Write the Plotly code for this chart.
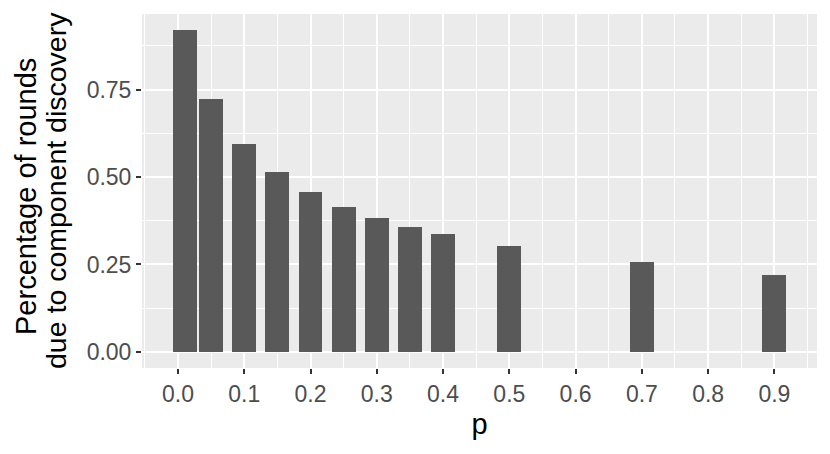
import plotly.graph_objects as go

# discovery share per p value
p_values = [0.01, 0.05, 0.1, 0.15, 0.2, 0.25, 0.3, 0.35, 0.4, 0.5, 0.7, 0.9]
share = [0.920, 0.724, 0.595, 0.513, 0.456, 0.414, 0.382, 0.356, 0.336, 0.302, 0.256, 0.220]
x_ticks = [0.0, 0.1, 0.2, 0.3, 0.4, 0.5, 0.6, 0.7, 0.8, 0.9]
y_ticks = [0.0, 0.25, 0.5, 0.75]

bar_w = 0.036
xlo, xhi = min(p_values) - bar_w / 2, max(p_values) + bar_w / 2
xpad = (xhi - xlo) * 0.05
ypad = max(share) * 0.05

fig = go.Figure(go.Bar(x=p_values, y=share, width=bar_w,
                       marker=dict(color="#595959", line=dict(width=0))))

axis_common = dict(showline=False, zeroline=False, ticks="outside", ticklen=5,
                   tickwidth=2, tickcolor="#333333", gridcolor="white", gridwidth=2,
                   automargin=False,
                   tickfont=dict(family="Liberation Sans", size=23, color="#4D4D4D"))

# page body adds an 8px offset, margins compensate for it
fig.update_layout(
    width=830, height=454,
    margin=dict(l=134, r=21, t=6, b=94),
    paper_bgcolor="white", plot_bgcolor="#EBEBEB",
    showlegend=False, bargap=0,
    font=dict(family="Liberation Sans", color="black"),
    xaxis=dict(range=[xlo - xpad, xhi + xpad], tickvals=x_ticks,
               ticktext=["%.1f" % v for v in x_ticks],
               minor=dict(dtick=0.05, tick0=0, showgrid=True, gridcolor="white", gridwidth=1),
               title=dict(text="p", font=dict(size=29, color="black"), standoff=8),
               **axis_common),
    yaxis=dict(range=[-ypad, max(share) + ypad], tickvals=y_ticks,
               ticktext=["%.2f" % v for v in y_ticks],
               minor=dict(dtick=0.125, tick0=0.125, showgrid=True, gridcolor="white", gridwidth=1),
               **axis_common),
    annotations=[
        dict(text="Percentage of rounds", xref="paper", yref="paper", x=0, y=0.5,
             xshift=-116, yshift=-6, textangle=-90, showarrow=False,
             xanchor="center", yanchor="middle",
             font=dict(family="Liberation Sans", size=29, color="black")),
        dict(text="due to component discovery", xref="paper", yref="paper", x=0, y=0.5,
             xshift=-86, yshift=0, textangle=-90, showarrow=False,
             xanchor="center", yanchor="middle",
             font=dict(family="Liberation Sans", size=28.5, color="black")),
    ],
)

fig.write_html("out.html")
